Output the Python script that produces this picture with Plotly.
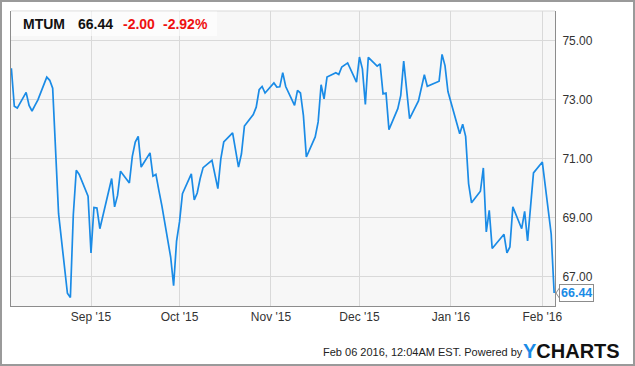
import plotly.graph_objects as go

dates = [
    "2015-08-05", "2015-08-06", "2015-08-07", "2015-08-10", "2015-08-11", "2015-08-12",
    "2015-08-13", "2015-08-14", "2015-08-17", "2015-08-18", "2015-08-19", "2015-08-20",
    "2015-08-21", "2015-08-24", "2015-08-25", "2015-08-26", "2015-08-27", "2015-08-28",
    "2015-08-31", "2015-09-01", "2015-09-02", "2015-09-03", "2015-09-04", "2015-09-08",
    "2015-09-09", "2015-09-10", "2015-09-11", "2015-09-14", "2015-09-15", "2015-09-16",
    "2015-09-17", "2015-09-18", "2015-09-21", "2015-09-22", "2015-09-23", "2015-09-24",
    "2015-09-25", "2015-09-28", "2015-09-29", "2015-09-30", "2015-10-01", "2015-10-02",
    "2015-10-05", "2015-10-06", "2015-10-07", "2015-10-08", "2015-10-09", "2015-10-12",
    "2015-10-13", "2015-10-14", "2015-10-15", "2015-10-16", "2015-10-19", "2015-10-20",
    "2015-10-21", "2015-10-22", "2015-10-23", "2015-10-26", "2015-10-27", "2015-10-28",
    "2015-10-29", "2015-10-30", "2015-11-02", "2015-11-03", "2015-11-04", "2015-11-05",
    "2015-11-06", "2015-11-09", "2015-11-10", "2015-11-11", "2015-11-12", "2015-11-13",
    "2015-11-16", "2015-11-17", "2015-11-18", "2015-11-19", "2015-11-20", "2015-11-23",
    "2015-11-24", "2015-11-25", "2015-11-27", "2015-11-30", "2015-12-01", "2015-12-02",
    "2015-12-03", "2015-12-04", "2015-12-07", "2015-12-08", "2015-12-09", "2015-12-10",
    "2015-12-11", "2015-12-14", "2015-12-15", "2015-12-16", "2015-12-17", "2015-12-18",
    "2015-12-21", "2015-12-22", "2015-12-23", "2015-12-24", "2015-12-28", "2015-12-29",
    "2015-12-30", "2015-12-31", "2016-01-04", "2016-01-05", "2016-01-06", "2016-01-07",
    "2016-01-08", "2016-01-11", "2016-01-12", "2016-01-13", "2016-01-14", "2016-01-15",
    "2016-01-19", "2016-01-20", "2016-01-21", "2016-01-22", "2016-01-25", "2016-01-26",
    "2016-01-27", "2016-01-28", "2016-01-29", "2016-02-01", "2016-02-02", "2016-02-03",
    "2016-02-04", "2016-02-05",
]
prices = [
    74.06, 72.77, 72.71, 73.24, 72.80, 72.61,
    72.80, 72.99, 73.76, 73.65, 73.38, 71.28,
    69.13, 66.43, 66.29, 69.10, 70.60, 70.46,
    69.72, 67.80, 69.34, 69.32, 68.62, 70.32,
    69.36, 69.75, 70.57, 70.17, 71.07, 71.56,
    71.75, 70.71, 71.19, 70.40, 70.46, 69.92,
    69.41, 67.66, 66.69, 68.20, 68.85, 69.81,
    70.48, 69.60, 69.83, 70.32, 70.69, 70.94,
    70.49, 69.98, 70.99, 71.56, 71.87, 71.28,
    70.71, 71.16, 72.10, 72.49, 72.74, 73.33,
    73.44, 73.22, 73.56, 73.42, 73.43, 73.91,
    73.44, 72.80, 73.31, 73.22, 72.46, 71.05,
    71.73, 72.24, 73.50, 73.02, 73.76, 73.91,
    73.85, 74.10, 74.24, 73.59, 74.44, 74.04,
    72.83, 74.43, 74.13, 74.21, 73.19, 73.22,
    71.98, 72.69, 73.14, 74.30, 73.36, 72.35,
    72.95, 73.42, 73.84, 73.45, 73.62, 74.53,
    74.15, 73.27, 71.84, 72.16, 71.75, 70.15,
    69.50, 69.89, 70.68, 68.51, 69.24, 67.95,
    68.43, 67.80, 68.00, 69.36, 68.62, 69.21,
    68.21, 69.36, 70.51, 70.88, 70.03, 69.24,
    68.44, 66.44,
]

tick_dates = ["2015-09-01", "2015-10-01", "2015-11-01", "2015-12-01", "2016-01-01", "2016-02-01"]
tick_labels = ["Sep '15", "Oct '15", "Nov '15", "Dec '15", "Jan '16", "Feb '16"]
y_ticks = [67, 69, 71, 73, 75]
y_labels = ["67.00", "69.00", "71.00", "73.00", "75.00"]

symbol = "MTUM"
last_price = "66.44"
change = "-2.00"
change_pct = "-2.92%"

LINE = "#1a8be6"
FONT = "Liberation Sans, Arial, sans-serif"

fig = go.Figure()
fig.add_trace(go.Scatter(x=dates, y=prices, mode="lines",
                         line=dict(color=LINE, width=1.7), hoverinfo="skip"))

W, H = 635, 366
L, R, T, B = 11, 80, 11, 60
pw, ph = W - L - R, H - T - B

def px(x):
    return (x - L) / pw

def py(y):
    return (H - B - y) / ph

fig.update_layout(
    width=W, height=H,
    margin=dict(l=L, r=R, t=T, b=B),
    paper_bgcolor="white",
    plot_bgcolor="#f7f7f7",
    showlegend=False,
    font=dict(family=FONT, size=12, color="#333333"),
    xaxis=dict(
        range=["2015-08-04 21:00", "2016-02-05 07:00"],
        tickvals=tick_dates, ticktext=tick_labels,
        showgrid=True, gridcolor="#d9d9d9", gridwidth=1,
        showline=True, linecolor="#8c8c8c", linewidth=1,
        ticks="", ticklen=0,
        tickfont=dict(size=12, color="#333333", family=FONT),
        zeroline=False, fixedrange=True,
    ),
    yaxis=dict(
        range=[66, 76], side="right",
        tickvals=y_ticks, ticktext=y_labels,
        showgrid=True, gridcolor="#d9d9d9", gridwidth=1,
        showline=True, linecolor="#8c8c8c", linewidth=1, mirror=True,
        ticks="outside", ticklen=4, tickcolor="rgba(0,0,0,0)",
        tickfont=dict(size=12, color="#333333", family=FONT),
        zeroline=False, fixedrange=True,
    ),
)

shapes = []
# top frame line (light)
shapes.append(dict(type="line", xref="paper", yref="paper", x0=0, x1=1, y0=1, y1=1,
                   line=dict(color="#d9d9d9", width=1), layer="above"))
# header box
shapes.append(dict(type="rect", xref="paper", yref="paper",
                   x0=px(11), x1=px(217), y0=py(36), y1=py(11.5),
                   fillcolor="rgba(255,255,255,0.6)", line=dict(width=0), layer="above"))
# outer border
shapes.append(dict(type="rect", xref="paper", yref="paper",
                   x0=px(1), x1=px(634), y0=py(365), y1=py(1),
                   line=dict(color="#9a9a9a", width=2), fillcolor="rgba(0,0,0,0)"))
# pointer of last value label
shapes.append(dict(type="path", xref="paper", yref="y",
                   xsizemode="pixel", ysizemode="pixel", xanchor=1, yanchor=prices[-1],
                   path="M 5,-6 L 1,0 L 5,6 Z",
                   fillcolor="white", line=dict(color="#8c8c8c", width=1), layer="above"))
fig.update_layout(shapes=shapes)

ann = []
hdr = [(symbol, 21, "#111111"), (last_price, 75.5, "#111111"),
       (change, 120.5, "#ee1111"), (change_pct, 161, "#ee1111")]
for txt, xpix, col in hdr:
    ann.append(dict(xref="paper", yref="paper", x=px(xpix), y=py(23.5), xanchor="left", yanchor="middle",
                    text="<b>" + txt + "</b>", showarrow=False,
                    font=dict(family=FONT, size=14, color=col)))
# last value label
ann.append(dict(xref="paper", yref="y", x=1, y=prices[-1], xanchor="left", yanchor="middle",
                xshift=4, text="<b>" + last_price + "</b>", showarrow=False,
                bgcolor="white", bordercolor="#8c8c8c", borderwidth=1, borderpad=1,
                font=dict(family=FONT, size=12.5, color=LINE)))
# footer
ann.append(dict(xref="paper", yref="paper", x=px(321), y=py(352), xanchor="left", yanchor="middle",
                text="Feb 06 2016, 12:04AM EST. Powered by", showarrow=False,
                font=dict(family=FONT, size=11, color="#222222")))
ann.append(dict(xref="paper", yref="paper", x=px(521), y=py(350.5), xanchor="left", yanchor="middle",
                text="<b><span style='color:#1a8be6'>Y</span>CHARTS</b>", showarrow=False,
                font=dict(family=FONT, size=20, color="#111111")))
fig.update_layout(annotations=ann)

fig.write_html("out.html")
